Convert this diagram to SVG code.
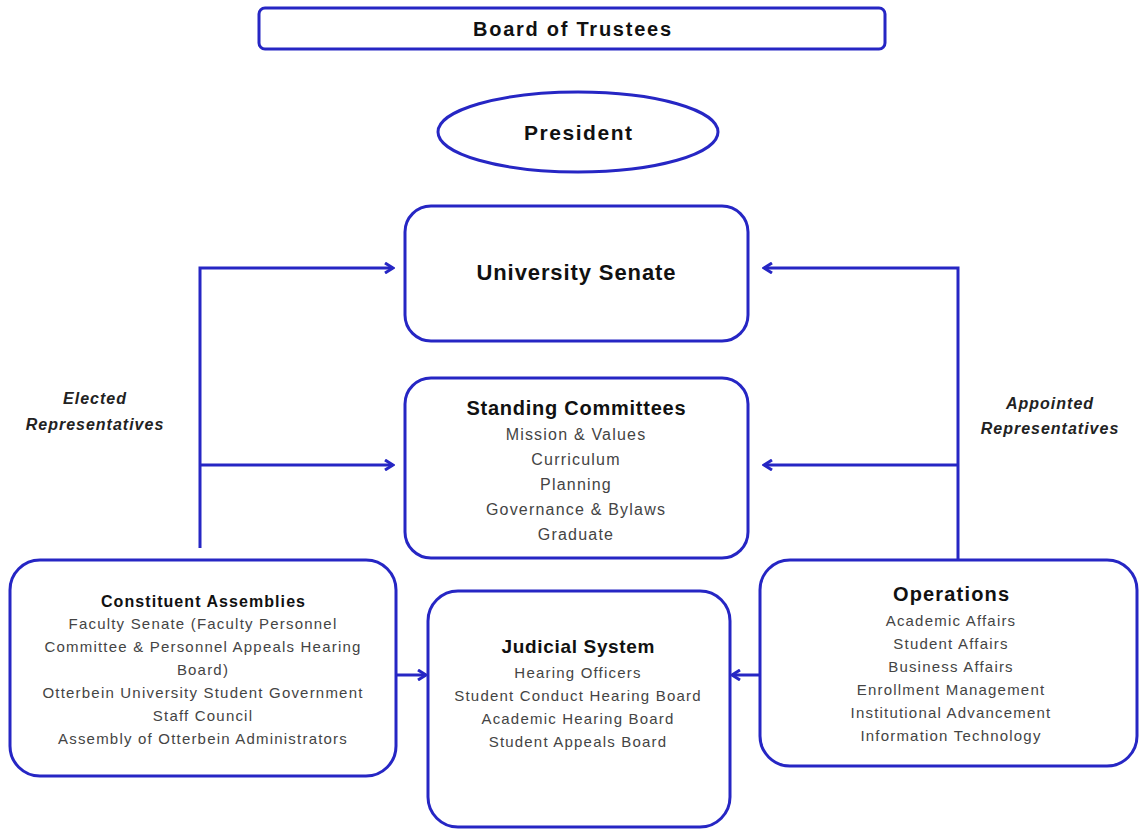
<svg xmlns="http://www.w3.org/2000/svg" width="1139" height="829" viewBox="0 0 1139 829">
<defs>
<style>
.box{fill:#fff;stroke:#2626c4;stroke-width:3}
.ln{fill:none;stroke:#2626c4;stroke-width:3}
.t{font-family:"Liberation Sans",Arial,sans-serif;text-anchor:middle;fill:#111;font-weight:bold}
.i{font-family:"Liberation Sans",Arial,sans-serif;text-anchor:middle;fill:#444;font-size:15px;letter-spacing:1.2px}
.s{font-family:"Liberation Sans",Arial,sans-serif;text-anchor:middle;fill:#444;font-size:16px;letter-spacing:1.2px}
.lab{font-family:"Liberation Sans",Arial,sans-serif;text-anchor:middle;fill:#222;font-size:16px;font-weight:bold;font-style:italic;letter-spacing:1px}
</style>
<marker id="ah" viewBox="0 0 12 12" refX="10" refY="6" markerWidth="12" markerHeight="12" markerUnits="userSpaceOnUse" orient="auto">
<path d="M2,1 L10,6 L2,11" fill="none" stroke="#2626c4" stroke-width="3"/>
</marker>
</defs>
<rect width="1139" height="829" fill="#fff"/>
<g id="connectors">
<path class="ln" d="M200,548 V268 H393" marker-end="url(#ah)"/>
<path class="ln" d="M200,465 H393" marker-end="url(#ah)"/>
<path class="ln" d="M958,560 V268 H764" marker-end="url(#ah)"/>
<path class="ln" d="M958,465 H764" marker-end="url(#ah)"/>
<path class="ln" d="M396,675 H426" marker-end="url(#ah)"/>
<path class="ln" d="M760,675 H732" marker-end="url(#ah)"/>
</g>
<g id="label-elected">
<text class="lab" x="95" y="404">Elected</text>
<text class="lab" x="95" y="430">Representatives</text>
</g>
<g id="label-appointed">
<text class="lab" x="1050" y="409">Appointed</text>
<text class="lab" x="1050" y="434">Representatives</text>
</g>
<g id="board">
<rect class="box" x="259" y="8" width="626" height="41" rx="6"/>
<text class="t" x="572" y="36" font-size="20" textLength="198" lengthAdjust="spacing">Board of Trustees</text>
</g>
<g id="president">
<ellipse class="box" cx="578" cy="132" rx="140" ry="40"/>
<text class="t" x="578" y="140" font-size="21" textLength="108" lengthAdjust="spacing">President</text>
</g>
<g id="senate">
<rect class="box" x="405" y="206" width="343" height="135" rx="26"/>
<text class="t" x="576" y="280" font-size="22" textLength="199" lengthAdjust="spacing">University Senate</text>
</g>
<g id="standing">
<rect class="box" x="405" y="378" width="343" height="180" rx="26"/>
<text class="t" x="576" y="415" font-size="20" textLength="219" lengthAdjust="spacing">Standing Committees</text>
<text class="s" x="576" y="440">Mission &amp; Values</text>
<text class="s" x="576" y="465">Curriculum</text>
<text class="s" x="576" y="490">Planning</text>
<text class="s" x="576" y="515">Governance &amp; Bylaws</text>
<text class="s" x="576" y="540">Graduate</text>
</g>
<g id="constituent">
<rect class="box" x="10" y="560" width="386" height="216" rx="30"/>
<text class="t" x="203" y="607" font-size="16" textLength="204" lengthAdjust="spacing">Constituent Assemblies</text>
<text class="i" x="203" y="629">Faculty Senate (Faculty Personnel</text>
<text class="i" x="203" y="652">Committee &amp; Personnel Appeals Hearing</text>
<text class="i" x="203" y="675">Board)</text>
<text class="i" x="203" y="698">Otterbein University Student Government</text>
<text class="i" x="203" y="721">Staff Council</text>
<text class="i" x="203" y="744">Assembly of Otterbein Administrators</text>
</g>
<g id="judicial">
<rect class="box" x="428" y="591" width="302" height="236" rx="30"/>
<text class="t" x="578" y="653" font-size="19" textLength="153" lengthAdjust="spacing">Judicial System</text>
<text class="i" x="578" y="678">Hearing Officers</text>
<text class="i" x="578" y="701">Student Conduct Hearing Board</text>
<text class="i" x="578" y="724">Academic Hearing Board</text>
<text class="i" x="578" y="747">Student Appeals Board</text>
</g>
<g id="operations">
<rect class="box" x="760" y="560" width="377" height="206" rx="30"/>
<text class="t" x="951" y="601" font-size="20" textLength="116" lengthAdjust="spacing">Operations</text>
<text class="i" x="951" y="626">Academic Affairs</text>
<text class="i" x="951" y="649">Student Affairs</text>
<text class="i" x="951" y="672">Business Affairs</text>
<text class="i" x="951" y="695">Enrollment Management</text>
<text class="i" x="951" y="718">Institutional Advancement</text>
<text class="i" x="951" y="741">Information Technology</text>
</g>
</svg>
